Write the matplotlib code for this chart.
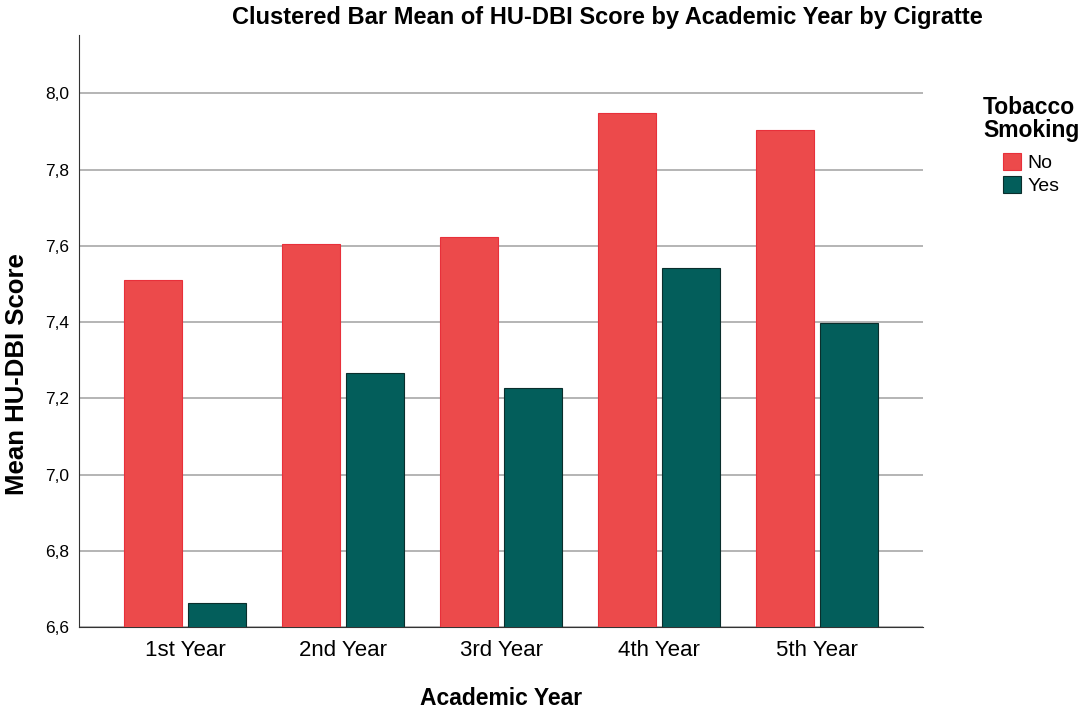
import numpy as np
import matplotlib
matplotlib.use("Agg")
from matplotlib import pyplot as plt
from matplotlib.ticker import FuncFormatter

years = ["1st Year", "2nd Year", "3rd Year", "4th Year", "5th Year"]
no_smoke = [7.510, 7.604, 7.624, 7.948, 7.904]
yes_smoke = [6.664, 7.266, 7.228, 7.543, 7.399]
yticks = [6.6, 6.8, 7.0, 7.2, 7.4, 7.6, 7.8, 8.0]

plt.rcParams['font.family'] = ['Liberation Sans', 'DejaVu Sans']

fig = plt.figure(figsize=(10.84, 7.16), dpi=100)
ax = fig.add_axes([0.0729, 0.1239, 0.7786, 0.8271])

x = np.arange(len(years))
w = 0.367
off = 0.2025
ax.bar(x - off, no_smoke, width=w, color="#EC4A4B", edgecolor="#E8303A",
       linewidth=0.8, label="No", zorder=3)
ax.bar(x + off, yes_smoke, width=w, color="#035E5B", edgecolor="#0A2E2C",
       linewidth=0.8, label="Yes", zorder=3)

ax.set_ylim(6.6, 8.153)
ax.set_xlim(-0.67, 4.67)
ax.set_yticks(yticks)
ax.yaxis.set_major_formatter(FuncFormatter(lambda v, p: f"{v:.1f}".replace(".", ",")))
ax.set_xticks(x)
ax.set_xticklabels(years, fontsize=16)
ax.tick_params(axis='y', length=0, labelsize=12.5, pad=7)
ax.tick_params(axis='x', length=0, pad=9)

ax.grid(axis='y', color="#A8A8A8", linewidth=1.2, zorder=0)
ax.spines['top'].set_visible(False)
ax.spines['right'].set_visible(False)
ax.spines['left'].set_color("#333333")
ax.spines['bottom'].set_color("#333333")

ax.set_xlabel("Academic Year", fontsize=16.5, fontweight='bold')
ax.xaxis.label.set_va('center')
ax.xaxis.set_label_coords(0.5, -0.12)
ax.set_ylabel("Mean HU-DBI Score", fontsize=18.5, fontweight='bold')
ax.yaxis.label.set_va('center')
ax.yaxis.set_label_coords(-0.073, 0.427)
fig.text(0.5605, 0.975, "Clustered Bar Mean of HU-DBI Score by Academic Year by Cigratte",
         ha='center', va='center', fontsize=17, fontweight='bold')

# legend title drawn separately so the entries can sit indented below it
fig.text(983 / 1084, 1 - 96 / 716, "Tobacco\nSmoking", ha='left', va='top',
         fontsize=16.5, fontweight='bold', linespacing=1.0)
leg = ax.legend(loc='upper left', bbox_to_anchor=(1003 / 1084, 1 - 153 / 716),
                bbox_transform=fig.transFigure, frameon=False, fontsize=14,
                handlelength=0.95, handleheight=0.95, handletextpad=0.3,
                labelspacing=0.22, borderpad=0, borderaxespad=0)

fig.savefig("out.png", dpi=100)
